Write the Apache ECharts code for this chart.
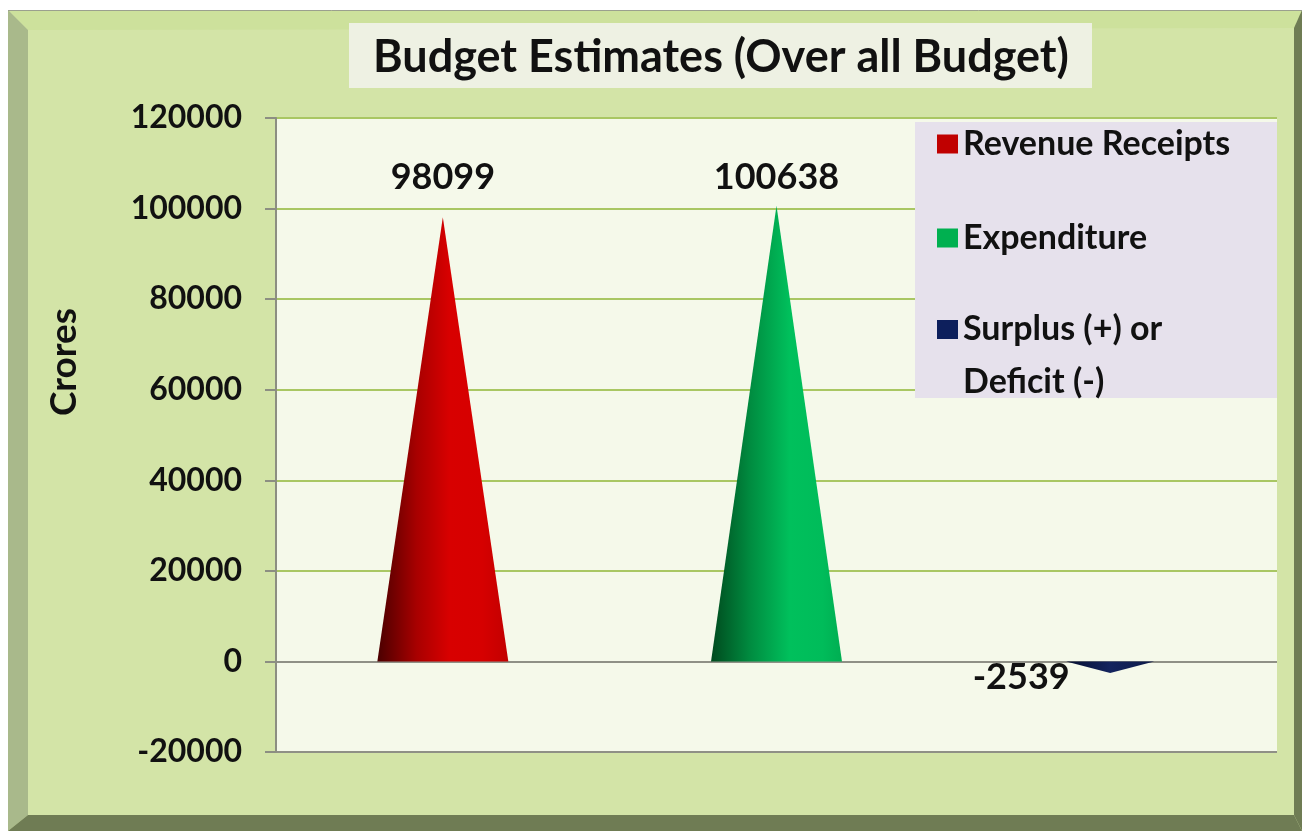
<!DOCTYPE html>
<html>
<head>
<meta charset="utf-8">
<title>Budget Estimates</title>
<script src="https://cdn.jsdelivr.net/npm/echarts@6/dist/echarts.min.js"></script>
<style>
  html, body { margin: 0; padding: 0; background: #ffffff; }
  #chart { width: 1302px; height: 831px; }
</style>
</head>
<body>
<div id="chart"></div>
<script>
  var categories = ['Revenue Receipts', 'Expenditure', 'Surplus (+) or Deficit (-)']
  var revenueData = [98099, '-', '-']
  var expenditureData = ['-', 100638, '-']
  var surplusData = ['-', '-', -2539]
  var yTicks = {min: -20000, max: 120000, interval: 20000}

  var font = 'Lato, "Open Sans", sans-serif'

  var chart = echarts.init(document.getElementById('chart'))

  function hGrad(stops) {
    return new echarts.graphic.LinearGradient(0, 0, 1, 0, stops.map(function (s) {
      return {offset: s[0], color: s[1]}
    }))
  }

  var redFill = hGrad([[0, '#4a0000'], [0.3, '#a80000'], [0.55, '#d80000'], [0.8, '#d60000'], [1, '#c20000']])
  var greenFill = hGrad([[0, '#004a1e'], [0.3, '#008c40'], [0.6, '#00c05c'], [0.85, '#00bc5a'], [1, '#00ae52']])
  var blueFill = hGrad([[0, '#050f30'], [0.5, '#14245e'], [1, '#0c1a48']])

  var labelStyle = {
    show: true,
    fontFamily: font,
    fontWeight: 'bold',
    fontSize: 36,
    color: '#111111'
  }

  var option = {
    backgroundColor: '#ffffff',
    animation: false,
    graphic: [
      // frame
      {type: 'rect', z: -10, shape: {x: 8, y: 10, width: 1294, height: 821}, style: {fill: '#d3e4a7'}},
      {type: 'polygon', z: -9, shape: {points: [[8, 10], [1302, 10], [1294, 28], [28, 30]]}, style: {fill: '#cde19c'}},
      {type: 'polygon', z: -9, shape: {points: [[8, 10], [28, 30], [28, 815], [8, 831]]}, style: {fill: '#a9b98b'}},
      {type: 'polygon', z: -9, shape: {points: [[1302, 10], [1294, 28], [1294, 815], [1302, 831]]}, style: {fill: '#6f7c54'}},
      {type: 'polygon', z: -9, shape: {points: [[8, 831], [28, 815], [1294, 815], [1302, 831]]}, style: {fill: '#6f7c54'}},
      {type: 'line', z: -8, shape: {x1: 8, y1: 10.5, x2: 1302, y2: 10.5}, style: {stroke: '#9ba08e', lineWidth: 1}},
      // title box
      {type: 'rect', z: -5, shape: {x: 349, y: 23, width: 743, height: 65}, style: {fill: '#eef1e3'}},
      {
        type: 'text', z: 5, x: 721, y: 57,
        style: {
          text: 'Budget Estimates (Over all Budget)',
          fontFamily: font, fontWeight: 'bold', fontSize: 45, fill: '#111111',
          align: 'center', verticalAlign: 'middle'
        }
      },
      // y axis title
      {
        type: 'text', z: 5, x: 64, y: 362, rotation: Math.PI / 2,
        style: {
          text: 'Crores',
          fontFamily: font, fontWeight: 'bold', fontSize: 37, fill: '#111111',
          align: 'center', verticalAlign: 'middle'
        }
      },
      // legend box
      {type: 'rect', z: 3, shape: {x: 915, y: 122, width: 362, height: 276}, style: {fill: '#e6e1ec'}}
    ],
    legend: [
      {
        orient: 'vertical',
        left: 937,
        top: 127,
        padding: 0,
        z: 5,
        itemWidth: 21,
        itemHeight: 19,
        itemGap: 60,
        itemTextGap: 11,
        icon: 'rect',
        selectedMode: false,
        textStyle: {fontFamily: font, fontWeight: 'bold', fontSize: 34, color: '#111111', lineHeight: 30},
        data: [
          {name: categories[0], itemStyle: {color: '#c00000'}},
          {name: categories[1], itemStyle: {color: '#00b050'}}
        ]
      },
      {
        orient: 'vertical',
        left: 937,
        top: 250,
        padding: 0,
        z: 5,
        itemWidth: 21,
        itemHeight: 19,
        itemTextGap: 9,
        icon: 'rect',
        selectedMode: false,
        formatter: function (name) {
          return '\nSurplus (+) or\nDeficit (-)'
        },
        textStyle: {fontFamily: font, fontWeight: 'bold', fontSize: 34, color: '#111111', lineHeight: 53},
        data: [
          {name: categories[2], itemStyle: {color: '#0d1f5c'}}
        ]
      }
    ],
    grid: {
      left: 276,
      right: 25,
      top: 118,
      bottom: 79,
      show: true,
      backgroundColor: '#f5f9ea',
      borderWidth: 0
    },
    xAxis: {
      type: 'category',
      data: categories,
      axisLine: {show: false},
      axisTick: {show: false},
      axisLabel: {show: false}
    },
    yAxis: {
      type: 'value',
      min: yTicks.min,
      max: yTicks.max,
      interval: yTicks.interval,
      axisLine: {show: true, lineStyle: {color: '#8c8e82', width: 2}},
      axisTick: {show: true, length: 11, lineStyle: {color: '#8c8e82', width: 2}},
      axisLabel: {
        margin: 34,
        fontFamily: font,
        fontWeight: 'bold',
        fontSize: 32,
        color: '#111111',
        formatter: function (v) { return String(v) }
      },
      splitLine: {
        show: true,
        lineStyle: {
          width: 2,
          color: ['#8f9086', '#8f9086', '#a9c763', '#a9c763', '#a9c763', '#a9c763', '#a9c763', '#a9c763']
        }
      }
    },
    series: [
      {
        name: categories[0],
        type: 'pictorialBar',
        barGap: '-100%',
        symbol: 'triangle',
        symbolSize: [131, '100%'],
        itemStyle: {color: redFill},
        label: Object.assign({}, labelStyle, {position: 'top', distance: 22}),
        data: revenueData
      },
      {
        name: categories[1],
        type: 'pictorialBar',
        barGap: '-100%',
        symbol: 'triangle',
        symbolSize: [131, '100%'],
        itemStyle: {color: greenFill},
        label: Object.assign({}, labelStyle, {position: 'top', distance: 10}),
        data: expenditureData
      },
      {
        name: categories[2],
        type: 'pictorialBar',
        barGap: '-100%',
        symbol: 'triangle',
        symbolSize: [88, '100%'],
        itemStyle: {color: blueFill},
        label: Object.assign({}, labelStyle, {position: 'bottom', distance: 0, offset: [-89, -14]}),
        data: surplusData
      }
    ]
  }

  chart.setOption(option)
</script>
</body>
</html>
